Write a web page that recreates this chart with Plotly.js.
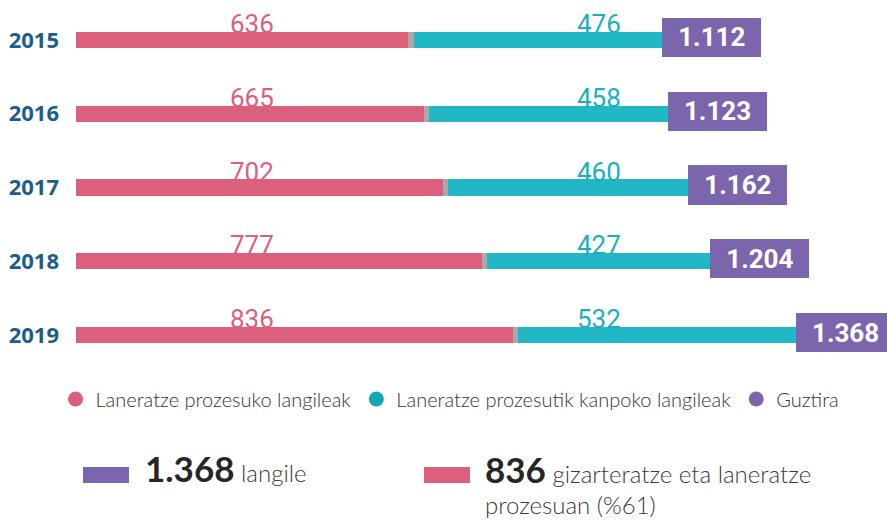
<!DOCTYPE html>
<html>
<head>
<meta charset="utf-8">
<script src="https://cdn.plot.ly/plotly-3.0.1.min.js"></script>
<style>
  html, body { margin: 0; padding: 0; background: #fff; }
  #chart { width: 887px; height: 520px; }
</style>
</head>
<body>
<div id="chart"></div>
<script>
// ---- data ----
const years = ['2015', '2016', '2017', '2018', '2019'];
const inProcess = [636, 665, 702, 777, 836];      // Laneratze prozesuko langileak
const outProcess = [476, 458, 460, 427, 532];     // Laneratze prozesutik kanpoko langileak
const totals = [1112, 1123, 1162, 1204, 1368];    // Guztira
const seriesNames = ['Laneratze prozesuko langileak', 'Laneratze prozesutik kanpoko langileak', 'Guztira'];

// ---- style constants ----
const PINK = '#DC5F7D', TEAL = '#22B7C5', PURPLE = '#7B66AE', GREY = '#A9A9A9';
const PINK_TXT = '#DC5F7D', TEAL_TXT = '#1BAFBE';
const SEP = 10;          // grey separator length (axis units)
const BOX = 189.5;       // total-label box length (axis units)
const BAR_W = 0.217, BOX_W = 0.529, BOX_UP = 0.034;

// plot area in pixels (for placing the footer items)
const L = 76, T = 3, W = 811, H = 369;
const px = x => (x - L) / W;
const py = y => (T + H - y) / H;

const fmt = v => {
  const s = String(v);
  return s.length > 3 ? s.slice(0, s.length - 3) + '.' + s.slice(-3) : s;
};

const traces = [
  { type: 'bar', orientation: 'h', y: years, x: inProcess, width: BAR_W,
    marker: { color: PINK }, showlegend: false, hoverinfo: 'skip' },
  { type: 'bar', orientation: 'h', y: years, x: years.map(() => SEP), width: BAR_W,
    marker: { color: GREY }, showlegend: false, hoverinfo: 'skip' },
  { type: 'bar', orientation: 'h', y: years, x: outProcess, width: BAR_W,
    marker: { color: TEAL }, showlegend: false, hoverinfo: 'skip' },
  { type: 'bar', orientation: 'h', y: years, x: years.map(() => BOX),
    width: BOX_W, offset: -BOX_W / 2 - BOX_UP,
    marker: { color: PURPLE }, showlegend: false, hoverinfo: 'skip',
    text: totals.map(fmt), textposition: 'inside', insidetextanchor: 'middle',
    constraintext: 'none', cliponaxis: true,
    textfont: { family: 'Roboto, sans-serif', size: 26, color: '#ffffff', weight: 'bold' } },
  // legend entries (on a hidden helper axis pair)
  { type: 'scatter', mode: 'markers', x: [0], y: [0], xaxis: 'x2', yaxis: 'y2', name: seriesNames[0],
    marker: { color: PINK, size: 15, symbol: 'circle' }, hoverinfo: 'skip' },
  { type: 'scatter', mode: 'markers', x: [0], y: [0], xaxis: 'x2', yaxis: 'y2', name: seriesNames[1],
    marker: { color: '#12A7B4', size: 15, symbol: 'circle' }, hoverinfo: 'skip' },
  { type: 'scatter', mode: 'markers', x: [0], y: [0], xaxis: 'x2', yaxis: 'y2', name: seriesNames[2],
    marker: { color: PURPLE, size: 15, symbol: 'circle' }, hoverinfo: 'skip' }
];

const annotations = [];
years.forEach((yr, i) => {
  annotations.push({ xref: 'paper', yref: 'y', x: px(252), y: i, xanchor: 'center', yanchor: 'bottom',
    yshift: -1, text: String(inProcess[i]), showarrow: false,
    font: { family: 'Roboto, sans-serif', size: 26, color: PINK_TXT } });
  annotations.push({ xref: 'paper', yref: 'y', x: px(599), y: i, xanchor: 'center', yanchor: 'bottom',
    yshift: -1, text: String(outProcess[i]), showarrow: false,
    font: { family: 'Roboto, sans-serif', size: 26, color: TEAL_TXT } });
});

annotations.push({
  xref: 'paper', yref: 'paper', x: px(143), y: py(491), xanchor: 'left', yanchor: 'bottom',
  showarrow: false, align: 'left',
  text: '<span style="font-size:35px;font-weight:bold;fill:#262626">' + fmt(totals[4]) + '</span> langile',
  font: { family: 'Lato, sans-serif', size: 24, color: '#3a3a3a', weight: 300 }
});
annotations.push({
  xref: 'paper', yref: 'paper', x: px(483), y: py(521), xanchor: 'left', yanchor: 'bottom',
  showarrow: false, align: 'left',
  text: '<span style="font-size:35px;font-weight:bold;fill:#262626">' + inProcess[4] + '</span> gizarteratze eta laneratze<br>prozesuan (%61)',
  font: { family: 'Lato, sans-serif', size: 24, color: '#3a3a3a', weight: 300 }
});

const shapes = [
  { type: 'rect', xref: 'paper', yref: 'paper', x0: px(83), x1: px(129), y0: py(483), y1: py(467),
    fillcolor: PURPLE, line: { width: 0 } },
  { type: 'rect', xref: 'paper', yref: 'paper', x0: px(424), x1: px(470), y0: py(483), y1: py(467),
    fillcolor: PINK, line: { width: 0 } }
];

const layout = {
  width: 887, height: 520,
  margin: { l: L, r: 887 - L - W, t: T, b: 520 - T - H, pad: 0 },
  paper_bgcolor: '#ffffff', plot_bgcolor: 'rgba(0,0,0,0)',
  barmode: 'stack',
  showlegend: true,
  legend: {
    orientation: 'h', traceorder: 'normal', x: px(450), xanchor: 'center', y: py(399), yanchor: 'middle',
    font: { family: 'Lato, sans-serif', size: 20, color: '#333333', weight: 300 },
    itemclick: false, itemdoubleclick: false
  },
  xaxis: { range: [0, 1552], visible: false, fixedrange: true },
  yaxis: {
    type: 'category', categoryorder: 'array', categoryarray: years,
    range: [4.5, -0.5], autorange: false, showgrid: false, zeroline: false, showline: false,
    ticks: '', ticklabelstandoff: 16, fixedrange: true,
    tickfont: { family: '"Open Sans", sans-serif', size: 22, color: '#1B5E8C', weight: 'bold' }
  },
  xaxis2: { domain: [0, 0.01], anchor: 'y2', range: [10, 11], visible: false, fixedrange: true },
  yaxis2: { domain: [0, 0.01], anchor: 'x2', range: [10, 11], visible: false, fixedrange: true },
  annotations: annotations,
  shapes: shapes
};

Plotly.newPlot('chart', traces, layout, { staticPlot: true, displayModeBar: false });
</script>
</body>
</html>
